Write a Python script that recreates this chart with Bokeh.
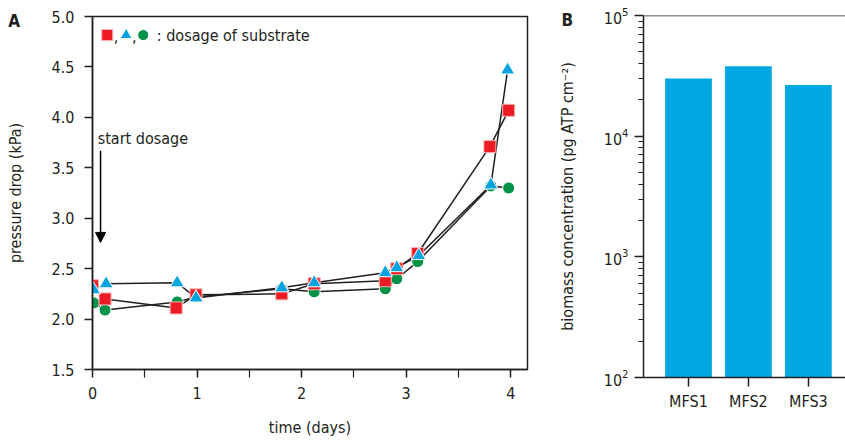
from bokeh.plotting import figure
from bokeh.layouts import row
from bokeh.models import (FixedTicker, PrintfTickFormatter, Label, Arrow, NormalHead,
                          Span, Range1d)
from bokeh.embed import file_html
from bokeh.resources import INLINE

FONT = "'Liberation Sans Narrow', 'DejaVu Sans Condensed', 'Roboto'"
INK = "#231F20"
RED = "#ED1C24"
BLUE = "#00A3E0"
GREEN = "#009245"
BAR = "#00A8E1"

# ---------------- Panel A data ----------------
t_red = [0.0, 0.12, 0.80, 0.99, 1.81, 2.12, 2.80, 2.91, 3.11, 3.80, 3.98]
p_red = [2.33, 2.20, 2.11, 2.24, 2.25, 2.35, 2.38, 2.50, 2.65, 3.71, 4.07]
t_blue = [0.01, 0.13, 0.81, 0.99, 1.81, 2.12, 2.80, 2.91, 3.12, 3.81, 3.97]
p_blue = [2.29, 2.35, 2.36, 2.21, 2.31, 2.36, 2.46, 2.51, 2.63, 3.33, 4.47]
t_green = [0.01, 0.12, 0.81, 0.99, 1.81, 2.12, 2.80, 2.91, 3.11, 3.81, 3.98]
p_green = [2.16, 2.09, 2.17, 2.22, 2.30, 2.27, 2.30, 2.40, 2.57, 3.32, 3.30]
x_ticks_a = [0, 1, 2, 3, 4]
x_minor_a = [0.5, 1.5, 2.5, 3.5]
y_ticks_a = [1.5, 2.0, 2.5, 3.0, 3.5, 4.0, 4.5, 5.0]

# ---------------- Panel B data ----------------
categories = ["MFS1", "MFS2", "MFS3"]
biomass = [3.0e4, 3.8e4, 2.65e4]
y_ticks_b = [1e2, 1e3, 1e4, 1e5]


def style_axes(p):
    for ax in (p.xaxis[0], p.yaxis[0]):
        ax.axis_line_color = INK
        ax.axis_line_width = 1.5
        ax.major_tick_line_color = INK
        ax.major_tick_line_width = 1.5
        ax.minor_tick_line_color = INK
        ax.minor_tick_line_width = 1.2
        ax.major_tick_in = 0
        ax.minor_tick_in = 0
        ax.major_label_text_font = FONT
        ax.major_label_text_font_size = "16px"
        ax.major_label_text_color = INK
        ax.axis_label_text_font = FONT
        ax.axis_label_text_font_size = "16px"
        ax.axis_label_text_font_style = "normal"
        ax.axis_label_text_color = INK
    p.xgrid.visible = False
    p.ygrid.visible = False


# ================= Panel A =================
pa = figure(width=540, height=440, output_backend="svg", toolbar_location=None,
            x_range=Range1d(0, 4.16), y_range=Range1d(1.5, 5.0),
            min_border_left=92, min_border_right=13, min_border_top=16, min_border_bottom=71)
pa.frame_align = False
pa.outline_line_color = INK
pa.outline_line_width = 1.5
style_axes(pa)
pa.xaxis.ticker = FixedTicker(ticks=x_ticks_a, minor_ticks=x_minor_a)
pa.yaxis.ticker = FixedTicker(ticks=y_ticks_a, minor_ticks=[])
pa.yaxis.formatter = PrintfTickFormatter(format="%.1f")
pa.xaxis.major_tick_out = 8
pa.xaxis.minor_tick_out = 8
pa.yaxis.major_tick_out = 8
pa.xaxis.major_label_standoff = 9
pa.yaxis.major_label_standoff = 10
pa.xaxis.axis_label = "time (days)"
pa.yaxis.axis_label = "pressure drop (kPa)"
pa.xaxis.axis_label_standoff = 16
pa.yaxis.axis_label_standoff = 24

for t, pv in ((t_red, p_red), (t_blue, p_blue), (t_green, p_green)):
    pa.line(t, pv, line_color=INK, line_width=1.5)

pa.scatter(t_green, p_green, marker="circle", size=12, fill_color=GREEN,
           line_color="white", line_width=1)
pa.scatter(t_red, p_red, marker="square", size=12, fill_color=RED,
           line_color="#F8B0B0", line_width=1)
pa.scatter(t_blue, p_blue, marker="triangle", size=14, fill_color=BLUE,
           line_color="white", line_width=1)

# start dosage arrow
pa.add_layout(Arrow(end=NormalHead(size=10, fill_color="black", line_color="black"),
                    x_start=0.077, y_start=3.67, x_end=0.077, y_end=2.76,
                    line_color="black", line_width=1.5))
pa.add_layout(Label(x=0.05, y=3.70, text="start dosage", text_font=FONT,
                    text_font_size="16px", text_color=INK, text_baseline="bottom"))

# legend-like note
pa.scatter([0.141], [4.816], marker="square", size=11, fill_color=RED, line_color="#F8B0B0")
pa.scatter([0.322], [4.816], marker="triangle", size=12, fill_color=BLUE, line_color="white")
pa.scatter([0.485], [4.816], marker="circle", size=11, fill_color=GREEN, line_color="white")
for cx in (0.225, 0.40):
    pa.add_layout(Label(x=cx, y=4.81, text=",", text_font=FONT, text_font_size="16px",
                        text_color=INK, text_align="center", text_baseline="alphabetic"))
pa.add_layout(Label(x=0.615, y=4.816, text=": dosage of substrate", text_font=FONT,
                    text_font_size="16px", text_color=INK, text_baseline="middle"))

# panel letter (placed in a side panel so it is not clipped to the frame)
pa.add_layout(Label(x=-0.75, y=4.96, text="A", text_font=FONT, text_font_size="17px",
                    text_font_style="bold", text_color=INK, text_align="center",
                    text_baseline="middle"), "right")

# ================= Panel B =================
pb = figure(width=305, height=440, output_backend="svg", toolbar_location=None,
            y_axis_type="log", x_range=Range1d(0.25, 3.62), y_range=Range1d(1e2, 1e5),
            min_border_left=103, min_border_right=0, min_border_top=15, min_border_bottom=63)
pb.frame_align = False
pb.outline_line_color = None
style_axes(pb)
xs = [i + 1 for i in range(len(categories))]
pb.vbar(x=xs, top=biomass, bottom=1e2, width=0.78, fill_color=BAR, line_color=None)
pb.xaxis.ticker = FixedTicker(ticks=xs, minor_ticks=[])
pb.xaxis.major_label_overrides = {x: c for x, c in zip(xs, categories)}
minor_b = [k * 10 ** e for e in (2, 3, 4) for k in range(2, 10)]
pb.yaxis.ticker = FixedTicker(ticks=y_ticks_b, minor_ticks=minor_b)
pb.xaxis.major_tick_out = 9
pb.xaxis.major_label_standoff = 5
pb.yaxis.major_tick_out = 9
pb.yaxis.minor_tick_out = 5
pb.yaxis.major_label_standoff = 6
pb.yaxis.axis_label = "biomass concentration (pg ATP cm\u207b\u00b2)"
pb.yaxis.axis_label_standoff = 24
pb.add_layout(Span(location=1e5, dimension="width", line_color=INK, line_width=1.5))
pb.add_layout(Label(x=-1.02, y=9.1e4, text="B", text_font=FONT, text_font_size="17px",
                    text_font_style="bold", text_color=INK, text_align="center",
                    text_baseline="middle"), "below")

layout = row(pa, pb)
open("out.html", "w").write(file_html(layout, INLINE))
